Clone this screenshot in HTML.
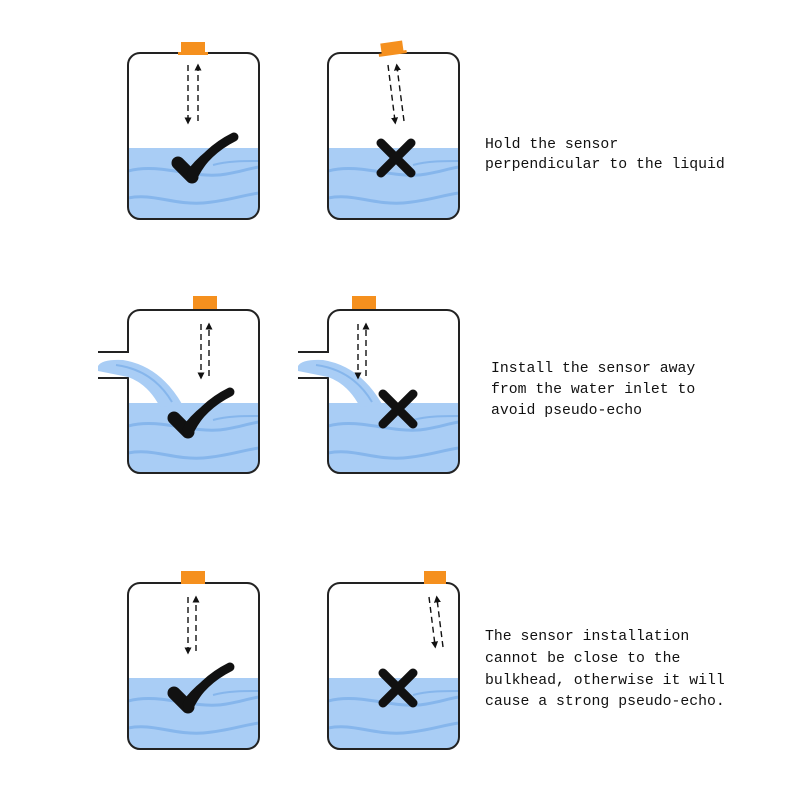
<!DOCTYPE html>
<html><head><meta charset="utf-8"><style>
html,body{margin:0;padding:0;background:#fff;width:800px;height:800px;overflow:hidden}
svg text{font-family:"Liberation Mono",monospace;font-size:14.8px;fill:#111}
</style></head><body>
<svg width="800" height="800" viewBox="0 0 800 800" xmlns="http://www.w3.org/2000/svg">
<defs>
<clipPath id="c"><rect x="0" y="0" width="131" height="166" rx="12"/></clipPath>
<g id="water">
  <rect x="0" y="95" width="131" height="75" fill="#a9cdf5" clip-path="url(#c)"/>
  <path d="M0 118 C30 110 60 124 90 122 C105 121 118 116 131 114" stroke="#86b6ec" stroke-width="3" fill="none" clip-path="url(#c)"/>
  <path d="M0 145 C25 140 45 152 75 150 C100 148 115 142 131 140" stroke="#86b6ec" stroke-width="3" fill="none" clip-path="url(#c)"/>
  <path d="M85 112 C100 108 115 108 131 108" stroke="#86b6ec" stroke-width="2" fill="none" clip-path="url(#c)"/>
</g>
<g id="check">
  <path d="M6 30 L20 44" stroke="#111" stroke-width="13" stroke-linecap="round" fill="none"/>
  <path d="M14 42 Q22 50 26 44 Q40 18 66 2 Q38 10 18 34Z" fill="#111"/>
  <path d="M20 44 Q34 18 62 4" stroke="#111" stroke-width="9" stroke-linecap="round" fill="none"/>
</g>
<g id="cross"><path d="M-15 -15 L15 15 M15 -15 L-15 15" stroke="#111" stroke-width="9" stroke-linecap="round"/></g>
<g id="stream">
  <path d="M-30 56 Q-26 49 -5 50 Q32 56 54 94 L32 97 Q20 74 0 67 Q-20 63 -30 61Z" fill="#a9cdf5"/>
  <path d="M-12 55 Q25 60 44 92" stroke="#86b6ec" stroke-width="2" fill="none"/>
</g>
<marker id="ah" viewBox="0 0 6 6" refX="3" refY="3" markerWidth="5" markerHeight="5" orient="auto"><path d="M0 0 L6 3 L0 6Z" fill="#111"/></marker>
</defs>

<!-- Row 1 -->
<g transform="translate(128,53)">
  <use href="#water"/>
  <rect x="0" y="0" width="131" height="166" rx="12" fill="none" stroke="#222" stroke-width="2"/>
  <rect x="53" y="-11" width="24" height="12" fill="#f5901e"/>
  <rect x="50" y="-1" width="30" height="3" fill="#f5901e"/>
  <line x1="60" y1="12" x2="60" y2="68" stroke="#111" stroke-width="1.4" stroke-dasharray="6,4" marker-end="url(#ah)"/>
  <line x1="70" y1="68" x2="70" y2="14" stroke="#111" stroke-width="1.4" stroke-dasharray="6,4" marker-end="url(#ah)"/>
</g>
<use href="#check" x="172" y="133"/>
<g transform="translate(328,53)">
  <use href="#water"/>
  <rect x="0" y="0" width="131" height="166" rx="12" fill="none" stroke="#222" stroke-width="2"/>
  <g transform="rotate(-8 64 -5)"><rect x="53" y="-11" width="22" height="12" fill="#f5901e"/><rect x="50" y="-1" width="28" height="3" fill="#f5901e"/></g>
  <line x1="60" y1="12" x2="67" y2="68" stroke="#111" stroke-width="1.4" stroke-dasharray="6,4" marker-end="url(#ah)"/>
  <line x1="76" y1="68" x2="69" y2="14" stroke="#111" stroke-width="1.4" stroke-dasharray="6,4" marker-end="url(#ah)"/>
</g>
<use href="#cross" x="396" y="158"/>
<text x="485" y="148">Hold the sensor</text>
<text x="485" y="168">perpendicular to the liquid</text>

<!-- Row 2 -->
<g transform="translate(128,310)">
  <use href="#water" y="-2"/>
  <rect x="0" y="0" width="131" height="163" rx="12" fill="none" stroke="#222" stroke-width="2"/>
  <rect x="-2" y="43" width="5" height="24" fill="#fff"/>
  <line x1="-30" y1="42" x2="1" y2="42" stroke="#222" stroke-width="2"/>
  <line x1="-30" y1="68" x2="1" y2="68" stroke="#222" stroke-width="2"/>
  <use href="#stream"/>
  <rect x="65" y="-14" width="24" height="13" fill="#f5901e"/>
  <line x1="73" y1="14" x2="73" y2="66" stroke="#111" stroke-width="1.4" stroke-dasharray="6,4" marker-end="url(#ah)"/>
  <line x1="81" y1="66" x2="81" y2="16" stroke="#111" stroke-width="1.4" stroke-dasharray="6,4" marker-end="url(#ah)"/>
</g>
<use href="#check" x="168" y="388"/>
<g transform="translate(328,310)">
  <use href="#water" y="-2"/>
  <rect x="0" y="0" width="131" height="163" rx="12" fill="none" stroke="#222" stroke-width="2"/>
  <rect x="-2" y="43" width="5" height="24" fill="#fff"/>
  <line x1="-30" y1="42" x2="1" y2="42" stroke="#222" stroke-width="2"/>
  <line x1="-30" y1="68" x2="1" y2="68" stroke="#222" stroke-width="2"/>
  <use href="#stream"/>
  <rect x="24" y="-14" width="24" height="13" fill="#f5901e"/>
  <line x1="30" y1="14" x2="30" y2="66" stroke="#111" stroke-width="1.4" stroke-dasharray="6,4" marker-end="url(#ah)"/>
  <line x1="38" y1="66" x2="38" y2="16" stroke="#111" stroke-width="1.4" stroke-dasharray="6,4" marker-end="url(#ah)"/>
</g>
<use href="#cross" x="398" y="409"/>
<text x="491" y="372">Install the sensor away</text>
<text x="491" y="393">from the water inlet to</text>
<text x="491" y="414">avoid pseudo-echo</text>

<!-- Row 3 -->
<g transform="translate(128,583)">
  <use href="#water"/>
  <rect x="0" y="0" width="131" height="166" rx="12" fill="none" stroke="#222" stroke-width="2"/>
  <rect x="53" y="-12" width="24" height="13" fill="#f5901e"/>
  <line x1="60" y1="14" x2="60" y2="68" stroke="#111" stroke-width="1.4" stroke-dasharray="6,4" marker-end="url(#ah)"/>
  <line x1="68" y1="68" x2="68" y2="16" stroke="#111" stroke-width="1.4" stroke-dasharray="6,4" marker-end="url(#ah)"/>
</g>
<use href="#check" x="168" y="663"/>
<g transform="translate(328,583)">
  <use href="#water"/>
  <rect x="0" y="0" width="131" height="166" rx="12" fill="none" stroke="#222" stroke-width="2"/>
  <rect x="96" y="-12" width="22" height="13" fill="#f5901e"/>
  <line x1="101" y1="14" x2="107" y2="62" stroke="#111" stroke-width="1.4" stroke-dasharray="6,4" marker-end="url(#ah)"/>
  <line x1="115" y1="64" x2="109" y2="16" stroke="#111" stroke-width="1.4" stroke-dasharray="6,4" marker-end="url(#ah)"/>
</g>
<use href="#cross" x="398" y="688"/>
<text x="485" y="640">The sensor installation</text>
<text x="485" y="662">cannot be close to the</text>
<text x="485" y="684">bulkhead, otherwise it will</text>
<text x="485" y="705">cause a strong pseudo-echo.</text>
</svg>
</body></html>
